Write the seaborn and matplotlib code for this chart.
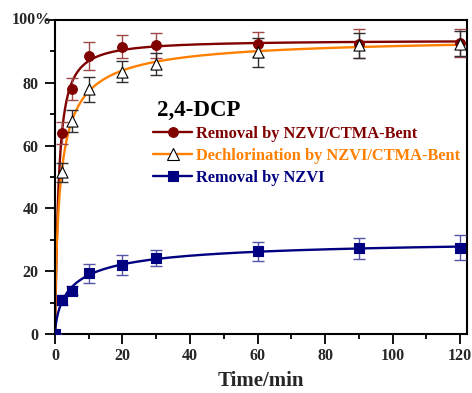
import numpy as np
import pandas as pd
import matplotlib
matplotlib.use("Agg")
import matplotlib.pyplot as plt
from matplotlib.lines import Line2D
import seaborn as sns

# ---- data ----
time_min = [0, 2, 5, 10, 20, 30, 60, 90, 120]
removal_cb = [0, 64, 78, 88.5, 91.5, 92, 92.3, 92.5, 92.7]
removal_cb_err = [0, 3.5, 3.5, 4.5, 3.7, 4.0, 4.0, 4.6, 4.5]
dechlor_cb = [0, 51.5, 68, 78, 83.5, 86, 89.7, 92, 92.5]
dechlor_cb_err = [0, 3.0, 3.5, 4.0, 3.3, 3.5, 4.5, 4.0, 4.0]
removal_nz = [0, 10.8, 13.8, 19.3, 22, 24.3, 26.4, 27.3, 27.5]
removal_nz_err = [0, 1.5, 1.5, 3.0, 3.2, 2.5, 3.0, 3.4, 4.0]

labels = ["Removal by NZVI/CTMA-Bent",
          "Dechlorination by NZVI/CTMA-Bent",
          "Removal by NZVI"]
x_ticks = [0, 20, 40, 60, 80, 100, 120]
y_ticks = [0, 20, 40, 60, 80, 100]
y_tick_labels = ["0", "20", "40", "60", "80", ""]

sns.set_theme(style="white")
plt.rcParams["font.family"] = ["Liberation Serif", "DejaVu Serif"]
plt.rcParams["font.weight"] = "bold"

fig = plt.figure(figsize=(4.72, 3.93), dpi=100)
ax = fig.add_axes([0.1165, 0.150, 0.8725, 0.799])


def fit_kinetic(t, y):
    """Least-squares fit of y = a*t^n/(b^n + t^n) to the data points."""
    t = np.asarray(t, float)
    y = np.asarray(y, float)
    best = None
    for n in np.linspace(0.4, 1.6, 61):
        for b in np.linspace(0.1, 15, 600):
            f = t ** n / (b ** n + t ** n)
            a = (y * f).sum() / (f * f).sum()
            r = ((y - a * f) ** 2).sum()
            if best is None or r < best[0]:
                best = (r, a, b, n)
    return best[1:]


series = [
    (removal_cb, removal_cb_err, "#800000", "o", "#800000", "#800000", "#a04848", 7.0),
    (dechlor_cb, dechlor_cb_err, "#ff8000", "^", "white", "black", "#303030", 8.0),
    (removal_nz, removal_nz_err, "#000080", "s", "#000080", "#000080", "#5555a5", 6.5),
]

tt = np.linspace(0, 120, 1200)
handles = []
for (vals, errs, col, mk, mfc, mec, ecol, ms), lab in zip(series, labels):
    a, b, n = fit_kinetic(time_min, vals)
    curve = pd.DataFrame({"t": tt, "y": a * tt ** n / (b ** n + tt ** n)})
    sns.lineplot(data=curve, x="t", y="y", color=col, lw=1.7, ax=ax, zorder=2)
    ax.errorbar(time_min, vals, yerr=errs, fmt="none", ecolor=ecol,
                elinewidth=1.0, capsize=4.5, capthick=1.0, zorder=3)
    pts = pd.DataFrame({"t": time_min, "y": vals})
    sns.scatterplot(data=pts, x="t", y="y", marker=mk, s=ms ** 2,
                    color=mfc, edgecolor=mec, linewidth=0.8, ax=ax, zorder=4)
    handles.append(Line2D([], [], color=col, lw=1.7, marker=mk, ms=ms,
                          mfc=mfc, mec=mec, mew=0.8))

ax.set_xlim(0, 122)
ax.set_ylim(0, 100)
ax.set_xticks(x_ticks)
ax.set_xticks(range(10, 121, 20), minor=True)
ax.set_yticks(y_ticks)
ax.set_yticklabels(y_tick_labels)
ax.set_yticks(range(10, 100, 20), minor=True)
ax.tick_params(which="both", direction="out", color="black", width=1.3)
ax.tick_params(which="major", length=7, labelsize=11.5)
ax.tick_params(axis="x", which="major", pad=3)
ax.tick_params(axis="y", which="major", pad=5)
ax.tick_params(which="minor", length=3.6)
ax.tick_params(bottom=True, left=True, which="both")
for lbl in ax.get_xticklabels() + ax.get_yticklabels():
    lbl.set_fontweight("bold")
for sp in ax.spines.values():
    sp.set_color("black")
    sp.set_linewidth(1.5)

ax.text(-0.007, 1.0, "100%", transform=ax.transAxes, fontsize=11.5,
        fontweight="bold", ha="right", va="center")

ax.set_xlabel("Time/min", fontsize=15, fontweight="bold", labelpad=5)
ax.set_ylabel("")

ax.text(0.247, 0.712, "2,4-DCP", transform=ax.transAxes, fontsize=16.5,
        fontweight="bold", color="black", ha="left", va="center")
leg = ax.legend(handles, labels, loc="upper left", bbox_to_anchor=(0.238, 0.662),
                frameon=False, fontsize=11.8, handlelength=2.4, handletextpad=0.25,
                labelspacing=0.36, borderaxespad=0, borderpad=0)
for txt, h in zip(leg.get_texts(), handles):
    txt.set_color(h.get_color())
    txt.set_fontweight("bold")

fig.savefig("out.png", dpi=100)
